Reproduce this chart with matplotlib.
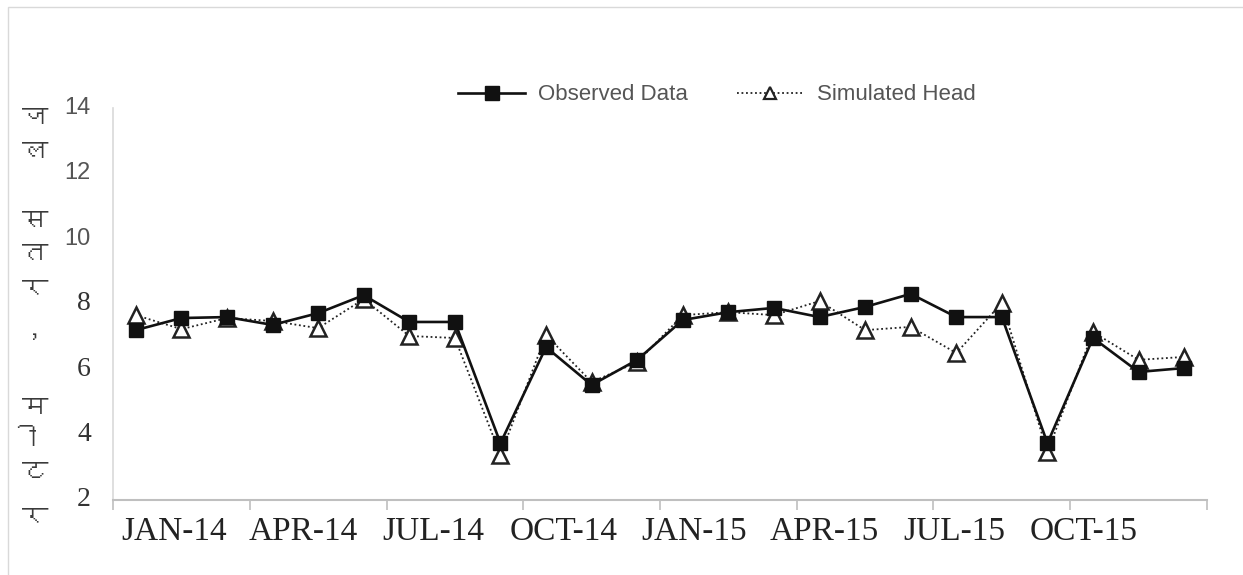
import matplotlib
matplotlib.use('Agg')
import matplotlib.pyplot as plt
from matplotlib import font_manager
from matplotlib.lines import Line2D
from matplotlib.patches import Rectangle
import numpy as np

# monthly water level, Jan-14 .. Dec-15 (metres)
months = ['JAN-14', 'FEB-14', 'MAR-14', 'APR-14', 'MAY-14', 'JUN-14',
          'JUL-14', 'AUG-14', 'SEP-14', 'OCT-14', 'NOV-14', 'DEC-14',
          'JAN-15', 'FEB-15', 'MAR-15', 'APR-15', 'MAY-15', 'JUN-15',
          'JUL-15', 'AUG-15', 'SEP-15', 'OCT-15', 'NOV-15', 'DEC-15']
observed = [7.20, 7.57, 7.60, 7.36, 7.72, 8.27, 7.45, 7.45, 3.74, 6.68, 5.52, 6.29,
            7.51, 7.75, 7.88, 7.60, 7.91, 8.31, 7.60, 7.60, 3.74, 6.96, 5.92, 6.04]
simulated = [7.66, 7.23, 7.57, 7.48, 7.26, 8.15, 7.02, 6.96, 3.38, 7.05, 5.61, 6.22,
             7.66, 7.75, 7.66, 8.09, 7.20, 7.30, 6.50, 8.03, 3.47, 7.14, 6.29, 6.38]
quarter_labels = ['JAN-14', 'APR-14', 'JUL-14', 'OCT-14',
                  'JAN-15', 'APR-15', 'JUL-15', 'OCT-15']
y_ticks = [2, 4, 6, 8, 10, 12, 14]
# "जल स्तर, मीटर" written one sign per line
ylabel_chars = ['ज', 'ल', 'स', 'त', 'र', ',', 'म', 'ी', 'ट', 'र']


def font_for(ch, fallback='DejaVu Sans'):
    """ Return the name of an installed font that has a glyph for ch. """
    for f in font_manager.fontManager.ttflist:
        try:
            if ord(ch) in font_manager.get_font(f.fname).get_charmap():
                return f.name
        except Exception:
            continue
    return fallback


installed = {f.name for f in font_manager.fontManager.ttflist}
narrow = 'Liberation Sans Narrow' if 'Liberation Sans Narrow' in installed else 'Liberation Sans'

W, H = 1243, 575
fig = plt.figure(figsize=(W / 100, H / 100), dpi=100)
fig.patches.append(Rectangle((8 / W, -0.05), 1.1, 1 - 7 / H + 0.05, transform=fig.transFigure,
                             fill=False, ec='#d9d9d9', lw=1))
ax = fig.add_axes([113 / W, 1 - 500 / H, (1207 - 113) / W, (500 - 108) / H])

x = np.arange(len(months))
ax.plot(x, simulated, linestyle=(0, (1, 1.5)), color='#222222', lw=1.3,
        marker='^', ms=11.5, mfc='white', mec='#222222', mew=1.8, zorder=2)
ax.plot(x, observed, '-', color='#111111', lw=1.9,
        marker='s', ms=9.5, mfc='#111111', mec='#111111', zorder=3)

ax.set_xlim(-0.5, len(months) - 0.5)
ax.set_ylim(2, 14)
for s in ['top', 'right']:
    ax.spines[s].set_visible(False)
ax.spines['left'].set_color('#d9d9d9')
ax.spines['left'].set_linewidth(1.2)
ax.spines['bottom'].set_color('#bfbfbf')
ax.spines['bottom'].set_linewidth(1.5)

# group boundaries as ticks, quarter names between them
ax.set_xticks(np.arange(-0.5, len(months), 3))
ax.tick_params(axis='x', which='major', length=7, width=1.2, color='#bfbfbf',
               labelbottom=False)
label_pos = 0.83 + 2.853 * np.arange(len(quarter_labels))
ax.set_xticks(label_pos, minor=True)
ax.set_xticklabels(quarter_labels, minor=True, fontfamily='Liberation Serif',
                   fontsize=24, color='#222222')
ax.tick_params(axis='x', which='minor', length=0, pad=12)

# y labels: upper ones in a sans face, lower ones in a serif face, as in the source
ax.set_yticks(y_ticks)
ax.tick_params(axis='y', length=0, labelleft=False)
for v in y_ticks:
    if v >= 10:
        kw = dict(fontfamily=narrow, fontsize=17, color='#555555')
    else:
        kw = dict(fontfamily='Liberation Serif', fontsize=20, color='#333333')
    ax.annotate(str(v), xy=(0, v), xycoords=('axes fraction', 'data'),
                xytext=(-16, 0), textcoords='offset points', ha='right', va='center', **kw)

deva = font_for('ज')
ylabel_y = [118, 152, 222, 255, 290, 330, 408, 440, 473, 518]
for ch, py in zip(ylabel_chars, ylabel_y):
    fig.text(35 / W, 1 - py / H, ch, fontfamily=[deva, 'DejaVu Sans'], fontsize=19,
             color='#3a3a3a', ha='center', va='center')

handles = [
    Line2D([], [], color='#111111', lw=1.9, marker='s', ms=9.5, mfc='#111111', mec='#111111'),
    Line2D([], [], color='#222222', lw=1.3, linestyle=(0, (1, 1.5)), marker='^', ms=9,
           mfc='white', mec='#222222', mew=1.6),
]
fig.legend(handles, ['Observed Data', 'Simulated Head'], loc='center',
           bbox_to_anchor=(717 / W, 1 - 95 / H), ncol=2, frameon=False,
           prop={'family': narrow, 'size': 16}, handlelength=3.0, handletextpad=0.6,
           columnspacing=2.2, labelcolor='#555555')

fig.savefig('out.png', dpi=100)
